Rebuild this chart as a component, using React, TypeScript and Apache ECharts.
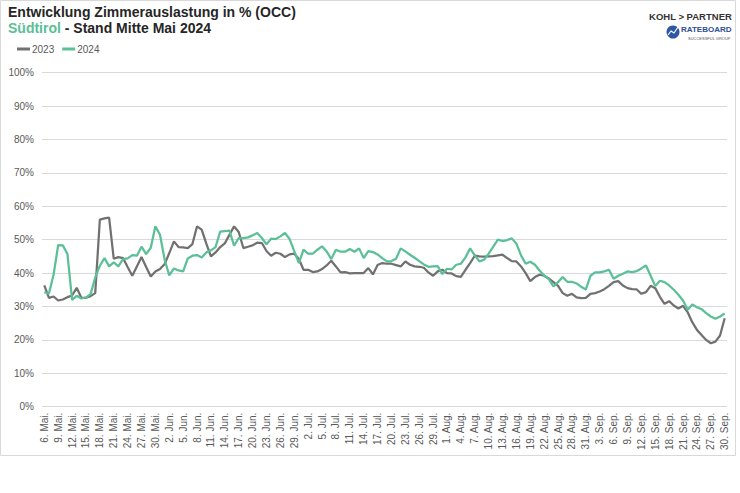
import React, { useEffect, useRef } from "react";
import * as echarts from "echarts";

const monthRanges: [string, number, number][] = [
  ["Mai", 6, 31],
  ["Jun", 1, 30],
  ["Jul", 1, 31],
  ["Aug", 1, 31],
  ["Sep", 1, 30],
];
const categories: string[] = [];
monthRanges.forEach(([m, a, b]) => {
  for (let d = a; d <= b; d++) categories.push(`${d}. ${m}.`);
});

const occ2023 = [
  36.3, 32.6, 33.0, 31.8, 32.1, 32.8, 33.3, 35.6, 32.6, 32.6,
  33.1, 34.0, 56.0, 56.4, 56.6, 44.3, 44.8, 44.5, 41.8, 39.2,
  42.0, 44.8, 41.8, 39.0, 40.5, 41.2, 42.7, 46.0, 49.5, 47.8,
  47.7, 47.5, 48.7, 54.0, 53.0, 48.8, 45.0, 46.2, 47.8, 48.9,
  51.5, 54.0, 52.3, 47.5, 47.9, 48.3, 49.1, 49.0, 46.6, 45.2,
  46.1, 45.8, 44.8, 45.6, 45.8, 44.2, 41.0, 41.0, 40.3, 40.5,
  41.2, 42.3, 43.7, 42.0, 40.2, 40.3, 39.9, 40.0, 40.0, 40.0,
  41.5, 39.6, 42.4, 43.0, 42.8, 42.8, 42.4, 42.0, 43.5, 42.5,
  42.0, 41.9, 41.6, 40.2, 39.2, 40.5, 41.0, 40.0, 39.9, 39.1,
  38.9, 41.0, 43.0, 45.2, 45.0, 44.9, 45.0, 45.1, 45.3, 45.5,
  44.5, 43.6, 43.5, 42.0, 40.0, 37.6, 38.8, 39.5, 39.2, 38.4,
  37.3, 36.2, 34.0, 33.2, 33.8, 32.7, 32.5, 32.6, 33.8, 34.0,
  34.5, 35.2, 36.2, 37.3, 37.6, 36.3, 35.5, 35.2, 35.1, 33.8,
  34.3, 36.2, 35.5, 32.9, 30.8, 31.6, 30.3, 29.4, 30.2, 28.3,
  25.3, 23.0, 21.5, 20.0, 19.0, 19.5, 21.3, 26.5,
];

const occ2024 = [
  34.2, 33.9, 39.5, 48.4, 48.3, 45.7, 32.0, 33.2, 32.4, 32.7,
  33.7, 38.7, 42.2, 44.5, 42.0, 43.2, 42.0, 44.2, 44.4, 45.4,
  45.2, 47.9, 45.7, 47.6, 54.0, 51.5, 44.0, 39.3, 41.4, 40.8,
  40.5, 44.4, 45.2, 45.4, 44.7, 46.2, 46.8, 47.8, 52.4, 52.6,
  52.7, 48.2, 50.5, 50.5, 50.7, 51.3, 52.0, 50.5, 48.6, 50.3,
  50.2, 51.0, 52.0, 50.2, 46.6, 43.0, 47.0, 45.8, 45.8, 47.0,
  48.0, 46.5, 44.2, 47.0, 46.4, 46.4, 47.2, 46.4, 47.4, 44.5,
  46.6, 46.3, 45.6, 44.5, 43.5, 43.6, 44.3, 47.4, 46.5, 45.5,
  44.6, 43.6, 42.6, 41.9, 42.0, 42.1, 39.7, 41.3, 41.1, 42.5,
  42.8, 44.7, 47.4, 45.3, 43.5, 44.0, 45.8, 47.9, 50.0, 49.6,
  49.9, 50.4, 48.8, 45.3, 42.8, 43.4, 42.5, 40.8, 39.2, 38.2,
  36.0, 37.3, 38.8, 37.4, 37.4, 36.9, 35.9, 35.1, 39.2, 40.2,
  40.2, 40.5, 41.0, 38.3, 39.2, 39.8, 40.5, 40.3, 40.6, 41.4,
  42.3, 39.2, 36.1, 37.7, 37.3, 36.3, 35.0, 33.5, 31.8, 29.0,
  30.6, 29.8, 29.2, 28.0, 27.0, 26.3, 27.0, 27.9,
];

const seriesNames = ["2023", "2024"];
const yTicks = { min: 0, max: 100, interval: 10 };

const FONT = "'Liberation Sans', Arial, sans-serif";
const GRAY = "#717171";
const GREEN = "#5bbf98";

export default function App() {
  const ref = useRef<HTMLDivElement>(null);
  useEffect(() => {
    if (!ref.current) return;
    const chart = echarts.init(ref.current, undefined, { renderer: "svg" });
    chart.setOption({
      animation: false,
      backgroundColor: "#ffffff",
      textStyle: { fontFamily: FONT },
      legend: {
        data: seriesNames,
        left: 12,
        top: 39,
        icon: "rect",
        itemWidth: 13,
        itemHeight: 3,
        itemGap: 8,
        textStyle: { fontSize: 10, color: "#595959", fontFamily: FONT, padding: [0, 0, 0, -3] },
      },
      grid: { left: 42, right: 13, top: 72.7, bottom: 86.3, containLabel: false },
      xAxis: {
        type: "category",
        data: categories,
        boundaryGap: true,
        axisLine: { show: false },
        axisTick: { show: false },
        axisLabel: {
          interval: 2,
          rotate: 90,
          fontSize: 10,
          color: "#595959",
          margin: 6,
          fontFamily: FONT,
        },
      },
      yAxis: {
        type: "value",
        min: yTicks.min,
        max: yTicks.max,
        interval: yTicks.interval,
        axisLine: { show: false },
        axisTick: { show: false },
        axisLabel: { formatter: "{value}%", fontSize: 10, color: "#595959", margin: 8, fontFamily: FONT },
        splitLine: { lineStyle: { color: "#d9d9d9", width: 1 } },
      },
      series: [
        {
          name: seriesNames[0],
          type: "line",
          data: occ2023,
          symbol: "none",
          color: GRAY,
          lineStyle: { width: 2.25, color: GRAY },
        },
        {
          name: seriesNames[1],
          type: "line",
          data: occ2024,
          symbol: "none",
          color: GREEN,
          lineStyle: { width: 2.25, color: GREEN },
        },
      ],
      graphic: [
        {
          type: "rect",
          shape: { x: 0.5, y: 0.5, width: 735, height: 455 },
          style: { fill: "none", stroke: "#d9d9d9", lineWidth: 1 },
          silent: true,
        },
        {
          type: "text",
          left: 8,
          top: 5,
          style: {
            text: "Entwicklung Zimmerauslastung in % (OCC)",
            font: `bold 14px ${FONT}`,
            fill: "#262626",
          },
        },
        {
          type: "text",
          left: 8,
          top: 21,
          style: {
            text: "{g|Südtirol}{d| - Stand Mitte Mai 2024}",
            font: `bold 14px ${FONT}`,
            rich: {
              g: { fill: GREEN, fontSize: 14, fontWeight: "bold", fontFamily: FONT },
              d: { fill: "#262626", fontSize: 14, fontWeight: "bold", fontFamily: FONT },
            },
          },
        },
        {
          type: "text",
          right: 8,
          top: 11,
          style: {
            text: "KOHL > PARTNER",
            font: `bold 9.5px ${FONT}`,
            fill: "#333333",
          },
        },
        {
          type: "circle",
          shape: { cx: 673, cy: 32, r: 6.5 },
          style: { fill: "#2d58a6" },
        },
        {
          type: "polyline",
          shape: { points: [[668, 35], [671, 31], [674, 33], [678, 27]] },
          style: { stroke: "#ffffff", lineWidth: 1.2, fill: "none" },
        },
        {
          type: "text",
          left: 681,
          top: 25,
          style: {
            text: "RATEBOARD",
            font: `bold 8px ${FONT}`,
            fill: "#2d4f93",
          },
        },
        {
          type: "text",
          left: 688,
          top: 36,
          style: {
            text: "SUCCESSFUL GROUP",
            font: `4px ${FONT}`,
            fill: "#555555",
          },
        },
      ],
    });
    return () => chart.dispose();
  }, []);
  return (
    <div
      ref={ref}
      style={{ position: "absolute", left: 0, top: 0, width: 740, height: 493 }}
    />
  );
}
